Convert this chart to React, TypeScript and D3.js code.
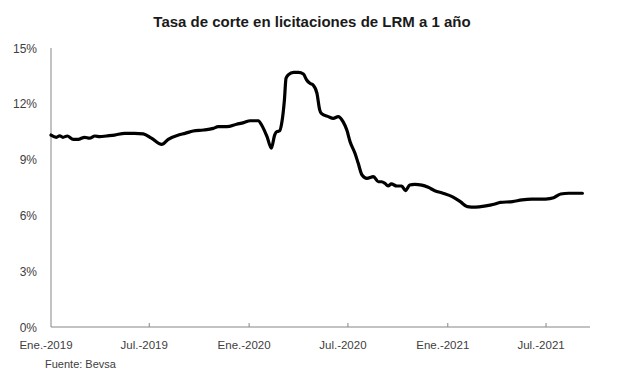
import React from 'react';
import * as d3 from 'd3';

// Tasa de corte LRM 1 año (% anual)
const dates = [
  '2019-01-01', '2019-01-11', '2019-01-17', '2019-01-23', '2019-01-31', '2019-02-11', '2019-02-20',
  '2019-03-04', '2019-03-13', '2019-03-23', '2019-04-01', '2019-04-13', '2019-04-28', '2019-05-17',
  '2019-06-04', '2019-06-20', '2019-07-05', '2019-07-24', '2019-08-05', '2019-08-24', '2019-09-05',
  '2019-09-20', '2019-10-09', '2019-10-27', '2019-11-05', '2019-11-21', '2019-12-09', '2019-12-22',
  '2020-01-03', '2020-01-18', '2020-01-24', '2020-02-03', '2020-02-11', '2020-02-17', '2020-02-21',
  '2020-02-26', '2020-03-01', '2020-03-06', '2020-03-09', '2020-03-13', '2020-03-23', '2020-04-01',
  '2020-04-10', '2020-04-16', '2020-04-22', '2020-04-28', '2020-05-05', '2020-05-10', '2020-05-13',
  '2020-05-26', '2020-06-04', '2020-06-13', '2020-06-22', '2020-06-29', '2020-07-05', '2020-07-14',
  '2020-07-20', '2020-07-27', '2020-08-05', '2020-08-17', '2020-08-26', '2020-09-01', '2020-09-07',
  '2020-09-13', '2020-09-19', '2020-09-29', '2020-10-08', '2020-10-15', '2020-10-23', '2020-11-01',
  '2020-11-14', '2020-11-26', '2020-12-08', '2020-12-23', '2021-01-09', '2021-01-24', '2021-02-06',
  '2021-02-21', '2021-03-12', '2021-03-27', '2021-04-08', '2021-04-30', '2021-05-18', '2021-06-05',
  '2021-06-30', '2021-07-15', '2021-07-28', '2021-08-12', '2021-09-06',
];
const rates = [
  10.32, 10.2, 10.28, 10.2, 10.27, 10.09, 10.09,
  10.2, 10.15, 10.27, 10.23, 10.27, 10.32, 10.41,
  10.41, 10.38, 10.15, 9.82, 10.09, 10.32, 10.41,
  10.54, 10.59, 10.68, 10.77, 10.77, 10.9, 10.99,
  11.09, 11.09, 10.86, 10.23, 9.61, 10.32, 10.5,
  10.54, 10.95, 12.2, 13.37, 13.55, 13.69, 13.69,
  13.6, 13.28, 13.1, 13.01, 12.56, 11.67, 11.49,
  11.31, 11.22, 11.31, 11.04, 10.59, 9.96, 9.34,
  8.8, 8.17, 7.99, 8.08, 7.81, 7.81, 7.73,
  7.58, 7.69, 7.58, 7.58, 7.33, 7.63, 7.67,
  7.63, 7.51, 7.33, 7.19, 7.01, 6.74, 6.47,
  6.44, 6.51, 6.6, 6.7, 6.74, 6.83, 6.87,
  6.88, 6.95, 7.15, 7.19, 7.19,
];
const yTicks = [0, 3, 6, 9, 12, 15];
const xTickDates = ['2019-01-01', '2019-07-01', '2020-01-01', '2020-07-01', '2021-01-01', '2021-07-01'];
const xTickLabels = ['Ene.-2019', 'Jul.-2019', 'Ene.-2020', 'Jul.-2020', 'Ene.-2021', 'Jul.-2021'];

const W = 617;
const H = 372;
const margin = { top: 48, right: 27, bottom: 45, left: 51 };
const font = '"Liberation Sans", Arial, sans-serif';

export default function App() {
  const parse = d3.utcParse('%Y-%m-%d');
  const data = dates.map((d, i) => ({ date: parse(d)!, value: rates[i] }));

  const x = d3.scaleUtc()
    .domain([parse('2019-01-01')!, parse('2021-09-20')!])
    .range([margin.left, W - margin.right]);
  const y = d3.scaleLinear()
    .domain([0, 15])
    .range([H - margin.bottom, margin.top]);

  const line = d3.line<{ date: Date; value: number }>()
    .x(d => x(d.date))
    .y(d => y(d.value))
    .curve(d3.curveMonotoneX);

  const y0 = y(0);

  return (
    <svg width={W} height={H} style={{ position: 'absolute', left: 0, top: 0, background: '#fff' }}>
      {/* Title */}
      <text x={312} y={27} textAnchor="middle" fontFamily={font} fontWeight="bold" fontSize={15} fill="#1a1a1a">
        Tasa de corte en licitaciones de LRM a 1 año
      </text>

      {/* Y axis labels */}
      {yTicks.map(t => (
        <text key={t} x={37} y={y(t) + 4.5} textAnchor="end" fontFamily={font} fontSize={12} fill="#404040">
          {`${t}%`}
        </text>
      ))}

      {/* Axes */}
      <line x1={margin.left} x2={margin.left} y1={margin.top} y2={y0} stroke="#868686" strokeWidth={1} />
      <line x1={margin.left} x2={W - margin.right} y1={y0} y2={y0} stroke="#868686" strokeWidth={1} />
      {xTickDates.map((d, i) => {
        const px = x(parse(d)!);
        return (
          <g key={d}>
            {i > 0 && <line x1={px} x2={px} y1={y0} y2={y0 - 4} stroke="#868686" strokeWidth={1} />}
            <text x={px - 5} y={y0 + 22} textAnchor="middle" fontFamily={font} fontSize={11.5} fill="#404040">
              {xTickLabels[i]}
            </text>
          </g>
        );
      })}

      {/* Series */}
      <path d={line(data) ?? ''} fill="none" stroke="#000" strokeWidth={3.2} strokeLinejoin="round" strokeLinecap="round" />

      {/* Source */}
      <text x={45} y={368} fontFamily={font} fontSize={11} fill="#404040">Fuente: Bevsa</text>
    </svg>
  );
}
